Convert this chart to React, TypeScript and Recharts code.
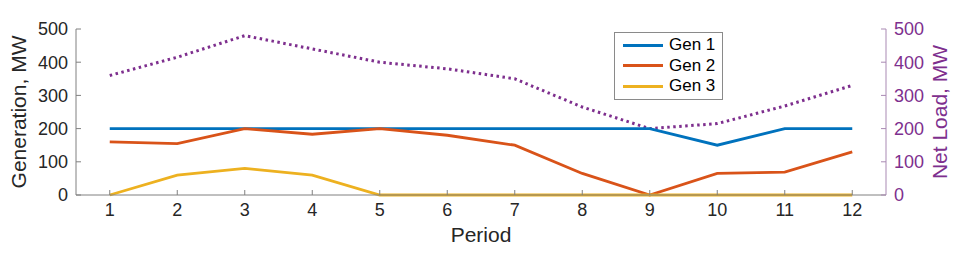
import React from 'react';
import { ComposedChart, Line, XAxis, YAxis, Legend, Label } from 'recharts';

const periods = [1, 2, 3, 4, 5, 6, 7, 8, 9, 10, 11, 12];
const gen1 = [200, 200, 200, 200, 200, 200, 200, 200, 200, 150, 200, 200];
const gen2 = [160, 155, 200, 183, 200, 180, 150, 65, 0, 65, 69, 130];
const gen3 = [0, 60, 80, 60, 0, 0, 0, 0, 0, 0, 0, 0];
const netLoad = [360, 415, 480, 440, 400, 380, 350, 265, 200, 215, 268, 330];
const yTicks = [0, 100, 200, 300, 400, 500];

const data = periods.map((p, i) => ({
  period: p,
  gen1: gen1[i],
  gen2: gen2[i],
  gen3: gen3[i],
  netLoad: netLoad[i],
}));

const FONT = '"Liberation Sans", Arial, Helvetica, sans-serif';
const AXIS = '#808080';
const TEXT = '#262626';
const PURPLE = '#7E2F8E';
const PURPLE_AXIS = '#a989b3';

const legendItems = [
  { name: 'Gen 1', color: '#0072BD' },
  { name: 'Gen 2', color: '#D95319' },
  { name: 'Gen 3', color: '#EDB120' },
];

const renderLegend = () => (
  <div
    style={{
      border: '1px solid #8a8a8a',
      background: '#fff',
      width: 107,
      height: 64,
      boxSizing: 'content-box',
      paddingTop: 2,
      fontFamily: FONT,
      fontSize: 17,
      color: '#000',
    }}
  >
    {legendItems.map((it) => (
      <div key={it.name} style={{ display: 'flex', alignItems: 'center', height: 20.5 }}>
        <div style={{ marginLeft: 8, width: 40, height: 3, background: it.color }} />
        <span style={{ marginLeft: 6, lineHeight: '20px' }}>{it.name}</span>
      </div>
    ))}
  </div>
);

export default function App() {
  return (
    <div style={{ position: 'absolute', left: 0, top: 0, background: '#fff' }}>
      <ComposedChart
        width={957}
        height={254}
        data={data}
        margin={{ top: 29, right: 0, left: 0, bottom: 0 }}
      >
        <XAxis
          xAxisId="top"
          orientation="top"
          dataKey="period"
          type="number"
          domain={[0.5, 12.5]}
          ticks={periods}
          height={0}
          tick={false}
          tickSize={-5}
          stroke={AXIS}
          axisLine={{ stroke: AXIS }}
          tickLine={{ stroke: AXIS }}
        />
        <XAxis
          xAxisId="bottom"
          dataKey="period"
          type="number"
          domain={[0.5, 12.5]}
          ticks={periods}
          height={59}
          tickSize={-5}
          tickMargin={13}
          interval={0}
          stroke={AXIS}
          tick={{ fill: TEXT, fontSize: 18, fontFamily: FONT }}
        >
          <Label
            content={() => (
              <text x={481} y={242} textAnchor="middle" fill={TEXT} fontSize={21} fontFamily={FONT}>
                Period
              </text>
            )}
          />
        </XAxis>
        <YAxis
          yAxisId="left"
          orientation="left"
          type="number"
          domain={[0, 500]}
          ticks={yTicks}
          width={76}
          tickSize={-5}
          tickMargin={13}
          interval={0}
          stroke={AXIS}
          tick={{ fill: TEXT, fontSize: 18, fontFamily: FONT }}
        >
          <Label
            content={() => (
              <text
                x={26}
                y={112}
                textAnchor="middle"
                transform="rotate(-90 26 112)"
                fill={TEXT}
                fontSize={21}
                fontFamily={FONT}
              >
                Generation, MW
              </text>
            )}
          />
        </YAxis>
        <YAxis
          yAxisId="right"
          orientation="right"
          type="number"
          domain={[0, 500]}
          ticks={yTicks}
          width={71}
          tickSize={-5}
          tickMargin={13}
          interval={0}
          stroke={PURPLE_AXIS}
          tick={{ fill: PURPLE, fontSize: 18, fontFamily: FONT }}
        >
          <Label
            content={() => (
              <text
                x={947}
                y={112}
                textAnchor="middle"
                transform="rotate(-90 947 112)"
                fill={PURPLE}
                fontSize={21}
                fontFamily={FONT}
              >
                Net Load, MW
              </text>
            )}
          />
        </YAxis>
        <Legend
          layout="vertical"
          align="center"
          verticalAlign="middle"
          content={renderLegend}
          wrapperStyle={{ position: 'absolute', left: 614, top: 32, width: 109, height: 66 }}
        />
        <Line
          xAxisId="bottom"
          yAxisId="right"
          dataKey="netLoad"
          stroke={PURPLE}
          strokeWidth={3}
          strokeDasharray="2.5 3.5"
          dot={false}
          activeDot={false}
          isAnimationActive={false}
          legendType="none"
        />
        <Line
          xAxisId="bottom"
          yAxisId="left"
          dataKey="gen1"
          name="Gen 1"
          stroke="#0072BD"
          strokeWidth={2.8}
          dot={false}
          activeDot={false}
          isAnimationActive={false}
        />
        <Line
          xAxisId="bottom"
          yAxisId="left"
          dataKey="gen2"
          name="Gen 2"
          stroke="#D95319"
          strokeWidth={2.8}
          dot={false}
          activeDot={false}
          isAnimationActive={false}
        />
        <Line
          xAxisId="bottom"
          yAxisId="left"
          dataKey="gen3"
          name="Gen 3"
          stroke="#EDB120"
          strokeWidth={2.8}
          dot={false}
          activeDot={false}
          isAnimationActive={false}
        />
      </ComposedChart>
    </div>
  );
}
